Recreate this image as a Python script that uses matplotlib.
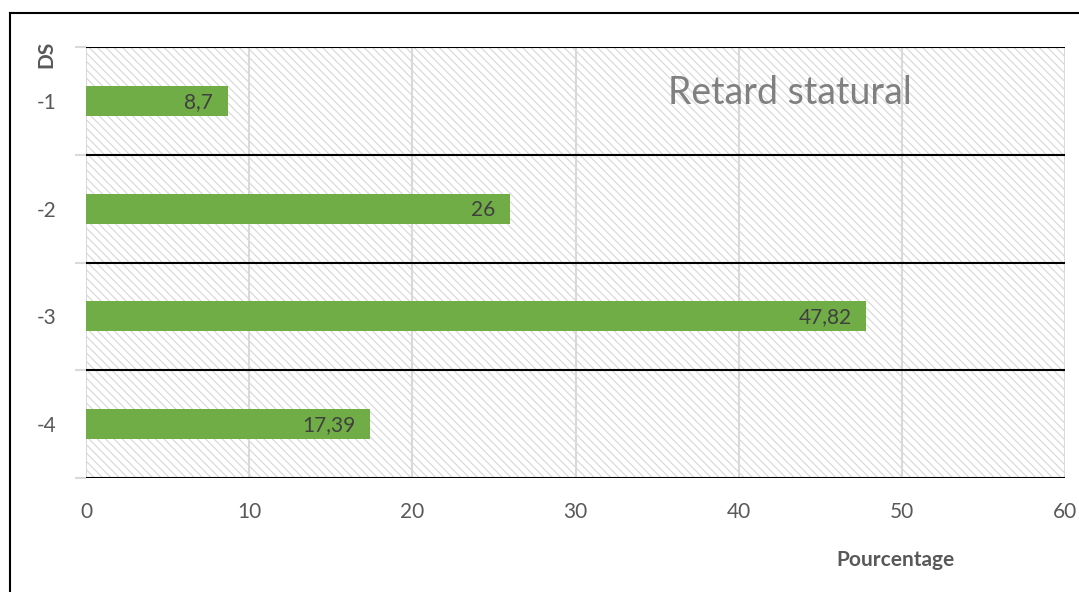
import matplotlib
matplotlib.use("Agg")
import matplotlib.pyplot as plt
from matplotlib.patches import Rectangle
from matplotlib.lines import Line2D

categories = ["-1", "-2", "-3", "-4"]
values = [8.7, 26, 47.82, 17.39]
value_labels = ["8,7", "26", "47,82", "17,39"]
xticks = [0, 10, 20, 30, 40, 50, 60]
title = "Retard statural"
xlabel = "Pourcentage"
ylabel = "DS"

plt.rcParams['font.family'] = ['Lato', 'DejaVu Sans']
plt.rcParams['hatch.color'] = '#d6d6d6'
plt.rcParams['hatch.linewidth'] = 0.8

W, H = 1079, 592
fig = plt.figure(figsize=(W / 100, H / 100), dpi=100)
ax = fig.add_axes([86 / W, 1 - 478 / H, (1065 - 86) / W, (478 - 47) / H])

n = len(categories)
ypos = list(range(n))
ax.set_xlim(0, 60)
ax.set_ylim(n - 0.5, -0.5)

# hatched background
ax.add_patch(Rectangle((0, 0), 1, 1, transform=ax.transAxes, facecolor='white',
                       hatch='\\' * 4, edgecolor='#d6d6d6', linewidth=0, zorder=0))

# vertical gridlines
for xt in xticks:
    ax.axvline(xt, color='#d9d9d9', linewidth=1.5, zorder=1)

# horizontal category boundaries
for b in range(n + 1):
    ax.axhline(b - 0.5, color='black', linewidth=1.5, zorder=3)

ax.barh(ypos, values, height=0.28, color='#70AD47', zorder=2)
for y, v, lab in zip(ypos, values, value_labels):
    ax.text(v - 0.9, y + 0.01, lab, ha='right', va='center', fontsize=15,
            color='#404040', zorder=4)

for s in ax.spines.values():
    s.set_visible(False)

ax.set_xticks(xticks)
ax.set_xticklabels([str(t) for t in xticks], fontsize=15, color='#595959')
ax.tick_params(axis='x', length=0, pad=17)
ax.set_yticks([b - 0.5 for b in range(n + 1)], minor=False)
ax.set_yticklabels([''] * (n + 1))
ax.tick_params(axis='y', which='major', length=8, color='#d9d9d9', width=1.5)
ax.set_yticks(ypos, minor=True)
ax.set_yticklabels(categories, minor=True, fontsize=15, color='#595959')
ax.tick_params(axis='y', which='minor', length=0, pad=21)

fig.text(46 / W, 1 - 54 / H, ylabel, rotation=90, ha='center', va='center',
         fontsize=15, fontweight='bold', color='#595959')
fig.text(895 / W, 1 - 560 / H, xlabel, ha='center', va='center',
         fontsize=15, fontweight='bold', color='#595959')
fig.text(790 / W, 1 - 93 / H, title, ha='center', va='center',
         fontsize=27, color='#808080')

# outer frame
fig.add_artist(Line2D([10 / W, 10 / W], [0, 1 - 13 / H], color='black', linewidth=1.5))
fig.add_artist(Line2D([10 / W, 1], [1 - 13 / H, 1 - 13 / H], color='black', linewidth=1.5))

fig.savefig('out.png', dpi=100)
